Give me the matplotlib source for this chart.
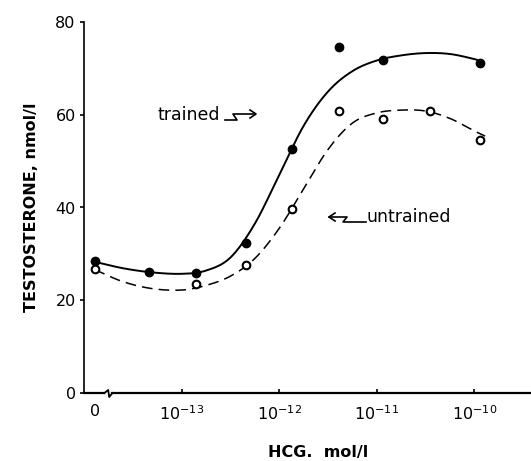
import numpy as np
import matplotlib
matplotlib.use("Agg")
from matplotlib import pyplot as plt

# HCG concentration as log10(mol/l); the zero dose sits left of the axis break
zero_pos = -13.89
hcg_trained = [zero_pos, -13.33, -12.85, -12.34, -11.87, -11.39, -10.94, -9.94]
testo_trained = [28.5, 26.1, 25.9, 32.3, 52.6, 74.6, 71.8, 71.1]
hcg_untrained = [zero_pos, -12.85, -12.34, -11.87, -11.39, -10.94, -10.45, -9.94]
testo_untrained = [26.7, 23.5, 27.6, 39.7, 60.8, 59.1, 60.8, 54.5]

# hand drawn fitted curves
curve_tr_x = [zero_pos, -13.6, -13.3, -13.0, -12.75, -12.5, -12.25, -12.0, -11.75,
              -11.5, -11.25, -11.0, -10.75, -10.5, -10.25, -10.0, -9.92]
curve_tr_y = [28.3, 26.9, 26.0, 25.7, 26.4, 29.2, 36.5, 47.0, 57.6,
              65.0, 69.4, 71.7, 72.8, 73.3, 73.1, 72.0, 71.4]
curve_un_x = [zero_pos, -13.6, -13.3, -13.0, -12.75, -12.5, -12.25, -12.0, -11.75,
              -11.5, -11.25, -11.0, -10.75, -10.5, -10.25, -10.0, -9.89]
curve_un_y = [26.6, 24.0, 22.5, 22.2, 23.2, 25.2, 29.0, 35.5, 44.0,
              52.5, 58.2, 60.4, 61.0, 60.8, 59.2, 56.5, 55.4]

xtick_pos = [zero_pos, -13, -12, -11, -10]
xtick_lab = ['0', r'$10^{-13}$', r'$10^{-12}$', r'$10^{-11}$', r'$10^{-10}$']
ytick_pos = [0, 20, 40, 60, 80]


def smooth(xs, ys, n=20):
    # catmull-rom through the read points
    P = np.column_stack([xs, ys]).astype(float)
    P = np.vstack([2*P[0]-P[1], P, 2*P[-1]-P[-2]])
    out = []
    t = np.linspace(0, 1, n, endpoint=False)[:, None]
    for i in range(1, len(P)-2):
        p0, p1, p2, p3 = P[i-1], P[i], P[i+1], P[i+2]
        seg = 0.5*((2*p1) + (-p0+p2)*t + (2*p0-5*p1+4*p2-p3)*t**2 + (-p0+3*p1-3*p2+p3)*t**3)
        out.append(seg)
    out.append(P[-2][None, :])
    out = np.vstack(out)
    return out[:, 0], out[:, 1]


plt.rcParams['font.family'] = ['DejaVu Sans']
fig = plt.figure(figsize=(5.31, 4.61), dpi=100)
ax = fig.add_axes([84/531, 68/461, 1-84/531, 371/461])
ax.set_xlim(-14.0, -9.42)
ax.set_ylim(0, 80)

sx, sy = smooth(curve_tr_x, curve_tr_y)
ax.plot(sx, sy, color='black', lw=1.4, clip_on=False)
sx, sy = smooth(curve_un_x, curve_un_y)
ax.plot(sx, sy, color='black', lw=1.1, dashes=(7, 4), clip_on=False)

ax.plot(hcg_trained, testo_trained, 'o', color='black', ms=6, clip_on=False, zorder=5)
ax.plot(hcg_untrained, testo_untrained, 'o', mfc='white', mec='black', mew=1.5, ms=5.5,
        clip_on=False, zorder=5)

for s in ['top', 'right', 'bottom']:
    ax.spines[s].set_visible(False)
ax.spines['left'].set_linewidth(1.2)

# bottom axis with break
xl = ax.get_xlim()
ax.plot([xl[0], -13.79], [0, 0], color='black', lw=1.6, clip_on=False)
ax.plot([-13.79, -13.752, -13.742, -13.708], [0, 0.65, -0.86, 0], color='black', lw=1.3, clip_on=False)
ax.plot([-13.708, xl[1]], [0, 0], color='black', lw=1.6, clip_on=False)

ax.set_xticks(xtick_pos)
ax.set_xticklabels(xtick_lab)
ax.tick_params(axis='x', direction='in', length=3, width=1.2, pad=8, labelsize=11.5)
ax.xaxis.get_major_ticks()[0].tick1line.set_visible(False)
ax.set_yticks(ytick_pos)
ax.tick_params(axis='y', direction='out', length=3, width=1.2, pad=3, labelsize=11.5)

ax.set_ylabel('TESTOSTERONE, nmol/l', fontweight='bold', fontsize=11.5, labelpad=12)
fig.text(318/531, 1-452/461, 'HCG.  mol/l', fontweight='bold', fontsize=11.5,
         ha='center', va='center')

# labels with squiggly arrows
fig.text(157/531, 1-115/461, 'trained', fontsize=12.5, ha='left', va='center')
fig.text(367/531, 1-217/461, 'untrained', fontsize=12.5, ha='left', va='center')


def fpx(x, y):
    return x/531, 1-y/461


arr = dict(color='black', lw=1.2)
fig.lines.append(plt.Line2D(*zip(fpx(225, 120), fpx(237, 120), fpx(233, 114), fpx(254, 114)),
                            transform=fig.transFigure, **arr))
fig.lines.append(plt.Line2D(*zip(fpx(250, 110), fpx(256, 114), fpx(250, 118)),
                            transform=fig.transFigure, **arr))
fig.lines.append(plt.Line2D(*zip(fpx(366, 222), fpx(343, 222), fpx(347, 217), fpx(329, 217)),
                            transform=fig.transFigure, **arr))
fig.lines.append(plt.Line2D(*zip(fpx(335, 213), fpx(329, 217), fpx(335, 221)),
                            transform=fig.transFigure, **arr))

fig.savefig('out.png', dpi=100)
